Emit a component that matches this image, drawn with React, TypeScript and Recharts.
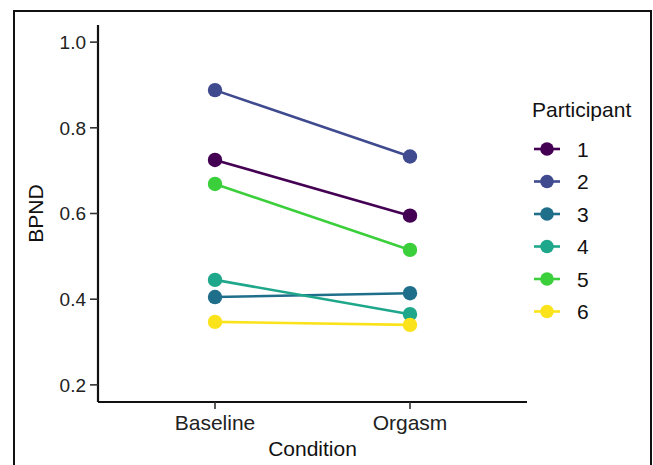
import { LineChart, Line, XAxis, YAxis } from "recharts"

const conditions = ["Baseline", "Orgasm"]
const participants = ["1", "2", "3", "4", "5", "6"]
const colors = ["#440154", "#3f4a8f", "#1f6f8b", "#1ea78a", "#3ccf3c", "#fbe31c"]
const baseline = [0.725, 0.888, 0.405, 0.445, 0.669, 0.347]
const orgasm = [0.595, 0.733, 0.414, 0.365, 0.515, 0.34]
const yTicks = [0.2, 0.4, 0.6, 0.8, 1.0]

const seriesValues = [baseline, orgasm]
const data = conditions.map((c, i) => {
  const row: Record<string, number | string> = { x: i + 1, condition: c }
  participants.forEach((p, j) => {
    row[`p${p}`] = seriesValues[i][j]
  })
  return row
})

const font = "'Liberation Sans', Arial, sans-serif"

const LegendBox = () => (
  <svg width={125} height={250} style={{ fontFamily: font, display: "block" }}>
    <text x={7} y={19} dominantBaseline="central" fontSize={21} fill="#111">
      Participant
    </text>
    {participants.map((p, i) => {
      const cy = 59 + i * 32.5
      return (
        <g key={p}>
          <line x1={9} x2={35} y1={cy} y2={cy} stroke={colors[i]} strokeWidth={2.6} />
          <circle cx={22} cy={cy} r={6.8} fill={colors[i]} />
          <text x={52} y={cy} dominantBaseline="central" fontSize={21} fill="#111">
            {p}
          </text>
        </g>
      )
    })}
  </svg>
)

const dot = (color: string) => ({ r: 7.2, fill: color, stroke: color, strokeWidth: 0 })

export default function App() {
  return (
    <div
      style={{
        position: "absolute",
        left: 0,
        top: 0,
        width: 653,
        height: 465,
        overflow: "hidden",
        background: "#fff",
        fontFamily: font,
      }}
    >
      <div
        style={{
          position: "absolute",
          left: 12.5,
          top: 10,
          width: 639,
          height: 480,
          border: "2px solid #111",
          boxSizing: "border-box",
        }}
      />
      <div style={{ position: "absolute", left: 525, top: 90 }}>
        <LegendBox />
      </div>
      <div style={{ position: "absolute", left: 0, top: 0 }}>
        <LineChart
          width={653}
          height={465}
          data={data}
          margin={{ top: 25, right: 126, bottom: 0, left: 38 }}
        >
          <XAxis
            dataKey="x"
            type="number"
            domain={[0.4, 2.6]}
            ticks={[1, 2]}
            tickFormatter={(v: number) => conditions[v - 1]}
            height={63}
            tickSize={7}
            tickMargin={6}
            axisLine={{ stroke: "#111", strokeWidth: 2.2 }}
            tickLine={{ stroke: "#333", strokeWidth: 1.6 }}
            tick={{ fill: "#222", fontSize: 21, fontFamily: font }}
            label={{
              content: ({ viewBox }: any) => (
                <text
                  x={viewBox.x + viewBox.width / 2}
                  y={448}
                  textAnchor="middle"
                  dominantBaseline="central"
                  fontSize={21}
                  fill="#111"
                  fontFamily={font}
                >
                  Condition
                </text>
              ),
            }}
          />
          <YAxis
            type="number"
            domain={[0.16, 1.04]}
            allowDataOverflow
            ticks={yTicks}
            tickFormatter={(v: number) => v.toFixed(1)}
            width={60}
            tickSize={8}
            tickMargin={4}
            axisLine={{ stroke: "#111", strokeWidth: 2.2 }}
            tickLine={{ stroke: "#333", strokeWidth: 1.6 }}
            tick={{ fill: "#222", fontSize: 19, fontFamily: font }}
            label={{
              content: ({ viewBox }: any) => {
                const cy = viewBox.y + viewBox.height / 2
                return (
                  <text
                    x={35}
                    y={cy}
                    transform={`rotate(-90 35 ${cy})`}
                    textAnchor="middle"
                    dominantBaseline="central"
                    fontSize={21}
                    fill="#111"
                    fontFamily={font}
                  >
                    BPND
                  </text>
                )
              },
            }}
          />
          {participants.map((p, i) => (
            <Line
              key={p}
              dataKey={`p${p}`}
              name={p}
              type="linear"
              stroke={colors[i]}
              strokeWidth={2.6}
              dot={dot(colors[i])}
              activeDot={false}
              isAnimationActive={false}
            />
          ))}
        </LineChart>
      </div>
    </div>
  )
}
